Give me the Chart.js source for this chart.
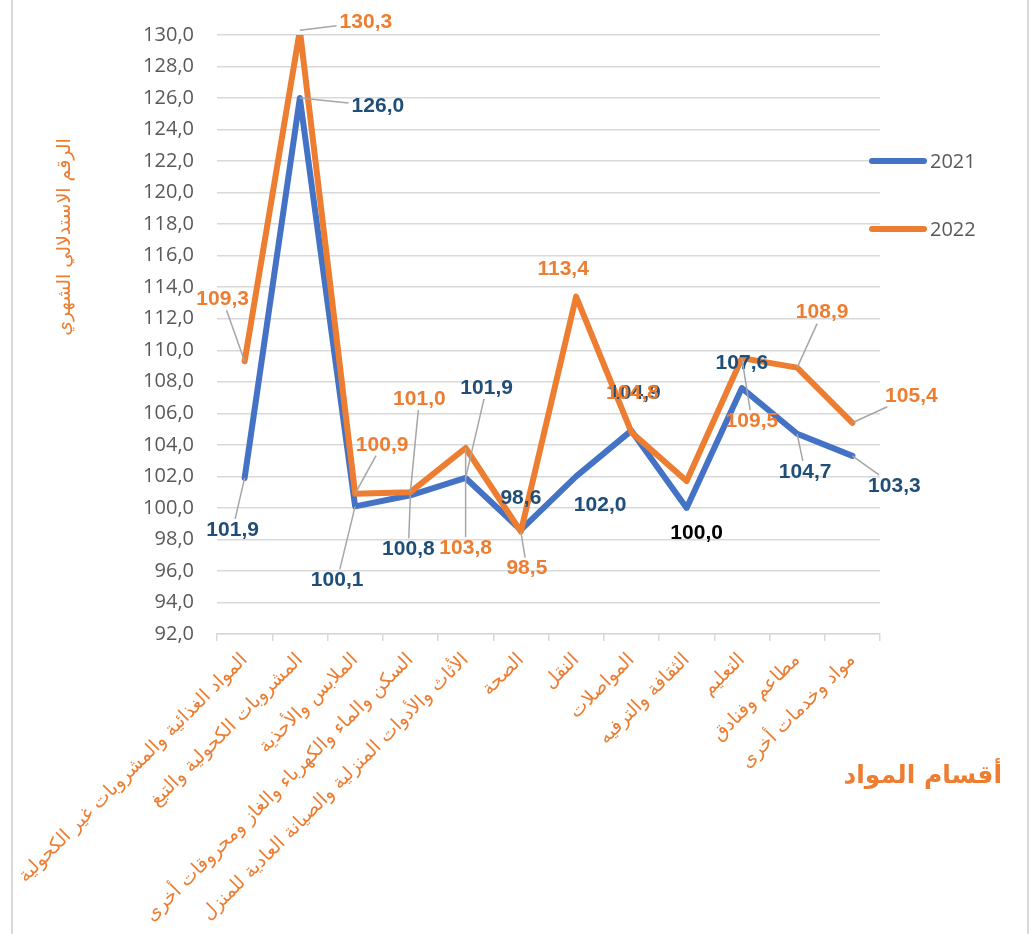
<!DOCTYPE html>
<html lang="ar">
<head>
    <meta charset="UTF-8">
    <title>الرقم الاستدلالي الشهري</title>
    <style>
        body { margin: 0; background: #fff; }
        canvas { display: block; }
    </style>
</head>
<body>
    <canvas id="myChart" width="1033" height="934"></canvas>
    <script src="https://cdn.jsdelivr.net/npm/chart.js"></script>
    <script>
        // categorías (أقسام المواد)
        const categories = [
            'المواد الغذائية والمشروبات غير الكحولية',
            'المشروبات الكحولية والتبغ',
            'الملابس والأحذية',
            'السكن والماء والكهرباء والغاز ومحروقات أخرى',
            'الأثاث والأدوات المنزلية والصيانة العادية للمنزل',
            'الصحة',
            'النقل',
            'المواصلات',
            'الثقافة والترفيه',
            'التعليم',
            'مطاعم وفنادق',
            'مواد وخدمات أخرى'
        ];
        const values2021 = [101.9, 126.0, 100.1, 100.8, 101.9, 98.6, 102.0, 104.9, 100.0, 107.6, 104.7, 103.3];
        const values2022 = [109.3, 130.3, 100.9, 101.0, 103.8, 98.5, 113.4, 104.8, 101.7, 109.5, 108.9, 105.4];
        // textos de las etiquetas tal como aparecen
        const labels2021 = ['101,9', '126,0', '100,1', '100,8', '101,9', '98,6', '102,0', '104,9', '100,0', '107,6', '104,7', '103,3'];
        const labels2022 = ['109,3', '130,3', '100,9', '101,0', '103,8', '98,5', '113,4', '104,8', null, '109,5', '108,9', '105,4'];
        const yTicks = { min: 92, max: 130, step: 2 };

        const blue = '#4472c4';
        const orange = '#ed7d31';

        // posición de cada etiqueta respecto a su punto
        const labelLayout = [
            {
                text: labels2021,
                color: ['#1f4e79', '#1f4e79', '#1f4e79', '#1f4e79', '#1f4e79', '#1f4e79', '#1f4e79', '#1f4e79', '#000000', '#1f4e79', '#1f4e79', '#1f4e79'],
                dx: [-12, 78, -18, -2, 21, 0, 24, 3, 10, 0, 8, 42],
                dy: [52, 8, 74, 54, -90, -32, 29, -37, 25, -25, 38, 30],
                leader: [1, 1, 1, 1, 1, 0, 0, 0, 0, 0, 1, 1]
            },
            {
                text: labels2022,
                color: orange,
                dx: [-22, 66, 27, 9, 0, 6, -13, 1, 0, 10, 25, 59],
                dy: [-62, -8, -49, -93, 100, 37, -27, -39, 0, 63, -55, -27],
                leader: [1, 1, 1, 1, 1, 1, 0, 0, 0, 1, 1, 1]
            }
        ];

        const labelsPlugin = {
            id: 'valueLabels',
            afterDatasetsDraw(chart) {
                const ctx = chart.ctx;
                ctx.save();
                ctx.font = 'bold 21px "Liberation Sans", Arial, sans-serif';
                ctx.textAlign = 'center';
                ctx.textBaseline = 'middle';
                labelLayout.forEach((cfg, ds) => {
                    const meta = chart.getDatasetMeta(ds);
                    meta.data.forEach((pt, i) => {
                        const txt = cfg.text[i];
                        if (!txt) return;
                        const cx = pt.x + cfg.dx[i];
                        const cy = pt.y + cfg.dy[i];
                        if (cfg.leader[i]) {
                            const w = ctx.measureText(txt).width;
                            const hw = w / 2 + 3, hh = 11;
                            const vx = pt.x - cx, vy = pt.y - cy;
                            const t = Math.min(vx ? hw / Math.abs(vx) : 99, vy ? hh / Math.abs(vy) : 99);
                            if (t < 1) {
                                ctx.beginPath();
                                ctx.strokeStyle = '#a6a6a6';
                                ctx.lineWidth = 1.5;
                                ctx.moveTo(cx + vx * t, cy + vy * t);
                                ctx.lineTo(pt.x, pt.y);
                                ctx.stroke();
                            }
                        }
                        ctx.fillStyle = Array.isArray(cfg.color) ? cfg.color[i] : cfg.color;
                        ctx.fillText(txt, cx, cy);
                    });
                });
                ctx.restore();
            }
        };

        const decorPlugin = {
            id: 'decor',
            beforeDraw(chart) {
                const ctx = chart.ctx;
                ctx.save();
                ctx.fillStyle = '#fff';
                ctx.fillRect(0, 0, chart.width, chart.height);
                ctx.strokeStyle = '#d9d9d9';
                ctx.lineWidth = 2;
                ctx.beginPath();
                ctx.moveTo(12, 0); ctx.lineTo(12, chart.height);
                ctx.moveTo(1028, 0); ctx.lineTo(1028, chart.height);
                ctx.stroke();
                ctx.restore();
            },
            afterDraw(chart) {
                const ctx = chart.ctx;
                ctx.save();
                // títulos de ejes
                ctx.fillStyle = orange;
                ctx.textAlign = 'center';
                ctx.textBaseline = 'middle';
                ctx.font = '19px "DejaVu Sans", sans-serif';
                ctx.translate(65, 237);
                ctx.rotate(-Math.PI / 2);
                ctx.fillText('الرقم الاستدلالي الشهري', 0, 0);
                ctx.setTransform(1, 0, 0, 1, 0, 0);
                ctx.font = 'bold 25px "DejaVu Sans", sans-serif';
                ctx.textAlign = 'right';
                ctx.fillText('أقسام المواد', 1002, 776);
                // leyenda
                const items = [['2021', blue, 161], ['2022', orange, 229]];
                ctx.font = '20px "Open Sans", sans-serif';
                ctx.textAlign = 'left';
                items.forEach(([name, col, y]) => {
                    ctx.beginPath();
                    ctx.strokeStyle = col;
                    ctx.lineWidth = 6;
                    ctx.lineCap = 'round';
                    ctx.moveTo(872, y);
                    ctx.lineTo(924, y);
                    ctx.stroke();
                    ctx.fillStyle = '#595959';
                    ctx.fillText(name, 930, y + 1);
                });
                ctx.restore();
            }
        };

        const ctx = document.getElementById('myChart').getContext('2d');
        new Chart(ctx, {
            type: 'line',
            data: {
                labels: categories,
                datasets: [
                    {
                        label: '2021',
                        data: values2021,
                        borderColor: blue,
                        borderWidth: 6,
                        pointRadius: 0,
                        borderJoinStyle: 'round',
                        borderCapStyle: 'round',
                        order: 1
                    },
                    {
                        label: '2022',
                        data: values2022,
                        borderColor: orange,
                        borderWidth: 6,
                        pointRadius: 0,
                        borderJoinStyle: 'round',
                        borderCapStyle: 'round',
                        order: 0
                    }
                ]
            },
            options: {
                responsive: false,
                animation: false,
                layout: { padding: { top: 26, right: 153, left: 0, bottom: 0 } },
                plugins: {
                    legend: { display: false },
                    tooltip: { enabled: false }
                },
                scales: {
                    x: {
                        offset: true,
                        grid: {
                            offset: true,
                            drawOnChartArea: false,
                            drawTicks: true,
                            tickLength: 7,
                            color: '#d9d9d9',
                            lineWidth: 1.5
                        },
                        border: { color: '#d9d9d9', width: 1.5 },
                        ticks: {
                            autoSkip: false,
                            minRotation: 45,
                            maxRotation: 45,
                            color: orange,
                            padding: 8,
                            font: { family: '"DejaVu Sans", sans-serif', size: 19 }
                        },
                        afterFit(scale) { scale.height = 300; }
                    },
                    y: {
                        min: yTicks.min,
                        max: yTicks.max,
                        ticks: {
                            stepSize: yTicks.step,
                            color: '#595959',
                            padding: 23,
                            font: { family: '"Open Sans", sans-serif', size: 20 },
                            callback: v => v.toFixed(1).replace('.', ',')
                        },
                        grid: { color: '#d9d9d9', lineWidth: 1.5, drawTicks: false },
                        border: { display: false },
                        afterFit(scale) { scale.width = 217; }
                    }
                }
            },
            plugins: [decorPlugin, labelsPlugin]
        });
    </script>
</body>
</html>
